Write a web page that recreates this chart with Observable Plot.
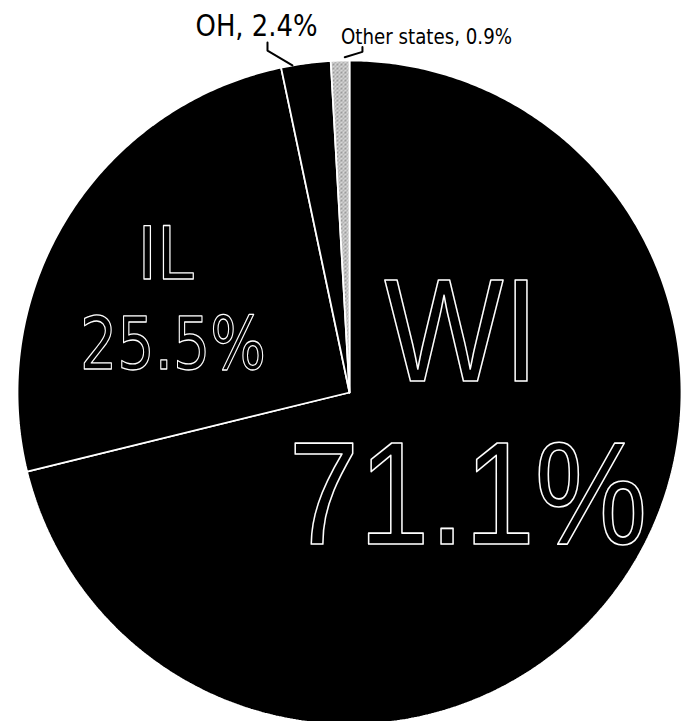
<!DOCTYPE html>
<html><head><meta charset="utf-8">
<script src="https://cdn.jsdelivr.net/npm/d3@7"></script>
<script src="https://cdn.jsdelivr.net/npm/@observablehq/plot@0.6"></script>
<style>html,body{margin:0;padding:0;background:#fff;overflow:hidden}</style>
</head><body><div id="chart"></div>
<script>
// ---- data ----
const states = ["WI", "IL", "OH", "Other states"];
const shares = [71.1, 25.5, 2.4, 0.9];
const insideNames = ["WI", "IL"];
const insideShares = ["71.1%", "25.5%"];
const outsideLabels = ["OH, 2.4%", "Other states, 0.9%"];
const sliceFills = ["black", "black", "black", "url(#stipple)"];

// ---- geometry from data (angles clockwise from 12 o'clock) ----
const total = d3.sum(shares);
let acc = 0;
const slices = states.map((s, i) => {
  const a0 = acc / total * 2 * Math.PI; acc += shares[i];
  const a1 = acc / total * 2 * Math.PI;
  return {state: s, a0, a1};
});
const pts = [];
for (const sl of slices) {
  const n = Math.max(2, Math.ceil((sl.a1 - sl.a0) / (Math.PI / 360)));
  pts.push({state: sl.state, x: 0, y: 0});
  for (let k = 0; k <= n; k++) {
    const a = sl.a0 + (sl.a1 - sl.a0) * k / n;
    pts.push({state: sl.state, x: Math.sin(a), y: Math.cos(a)});
  }
  pts.push({state: sl.state, x: 0, y: 0});
}

// leader lines for the two small slices
const leaderSpec = [
  {slice: slices[2], frac: 0.23, r: 1.0, lx: -0.247, ly1: 1.054, ly2: 1.030},
  {slice: slices[3], frac: 0.75, r: 1.01, lx: 0.039, ly1: 1.041, ly2: 1.026}
];
const leaders = [];
leaderSpec.forEach((d, i) => {
  const a = d.slice.a0 + (d.slice.a1 - d.slice.a0) * d.frac;
  leaders.push({id: i, x: d.lx, y: d.ly1});
  leaders.push({id: i, x: d.lx, y: d.ly2});
  leaders.push({id: i, x: d.r * Math.sin(a), y: d.r * Math.cos(a)});
});

const bigLabels = [
  {t: insideNames[0], x: 0.337, y: 0.036},
  {t: insideShares[0], x: 0.357, y: -0.455}
];
const midLabels = [
  {t: insideNames[1], x: -0.554, y: 0.343},
  {t: insideShares[1], x: -0.532, y: 0.072}
];
const topLabels = [
  {t: outsideLabels[0], x: -0.28, y: 1.075, size: 30},
  {t: outsideLabels[1], x: 0.232, y: 1.051, size: 22}
];

const cx = 349, cy = 392, R = 332;
const chart = Plot.plot({
  width: 685, height: 721,
  x: {domain: [-1, 1], range: [cx - R, cx + R], axis: null},
  y: {domain: [-1, 1], range: [cy + R, cy - R], axis: null},
  color: {domain: states, range: sliceFills},
  style: {background: "white"},
  marks: [
    Plot.line(pts, {x: "x", y: "y", z: "state", fill: "state", stroke: "white", strokeWidth: 1.8, strokeLinejoin: "miter"}),
    Plot.line(leaders, {x: "x", y: "y", z: "id", stroke: "black", strokeWidth: 2}),
    Plot.text(bigLabels, {x: "x", y: "y", text: "t", lineAnchor: "bottom", textAnchor: "middle",
      fontFamily: "Liberation Sans, Arial, sans-serif", fontSize: 147, fill: "black", stroke: "white", strokeWidth: 1.7, paintOrder: "normal"}),
    Plot.text(midLabels, {x: "x", y: "y", text: "t", lineAnchor: "bottom", textAnchor: "middle",
      fontFamily: "DejaVu Sans, sans-serif", fontSize: 73, fill: "black", stroke: "white", strokeWidth: 1.3, paintOrder: "normal"}),
    Plot.text(topLabels, {x: "x", y: "y", text: "t", lineAnchor: "bottom", textAnchor: "middle",
      fontFamily: "DejaVu Sans, sans-serif", fontSize: d => d.size, fill: "black"})
  ]
});

// stipple pattern for the "Other states" slice
const ns = "http://www.w3.org/2000/svg";
const defs = document.createElementNS(ns, "defs");
defs.innerHTML = `<pattern id="stipple" width="4" height="4" patternUnits="userSpaceOnUse">
  <rect width="4" height="4" fill="#d6d6d6"/>
  <rect x="0" y="0" width="1" height="1" fill="#555"/>
  <rect x="2" y="1" width="1" height="1" fill="#888"/>
  <rect x="1" y="3" width="1" height="1" fill="#666"/>
  <rect x="3" y="2" width="1" height="1" fill="#999"/>
</pattern>`;
chart.insertBefore(defs, chart.firstChild);

// condense label lettering horizontally to match the reference
const squeeze = {"WI": 0.86, "71.1%": 0.86};
const widths = {"IL": 56, "25.5%": 186, "OH, 2.4%": 122, "Other states, 0.9%": 171};
chart.querySelectorAll("text").forEach(t => {
  const k = t.textContent;
  if (squeeze[k]) {
    const tr = t.getAttribute("transform") || "";
    t.setAttribute("transform", `${tr} scale(${squeeze[k]},1)`);
  } else if (widths[k]) {
    t.setAttribute("textLength", widths[k]); t.setAttribute("lengthAdjust", "spacingAndGlyphs");
  }
});
document.getElementById("chart").appendChild(chart);
</script>
</body></html>
